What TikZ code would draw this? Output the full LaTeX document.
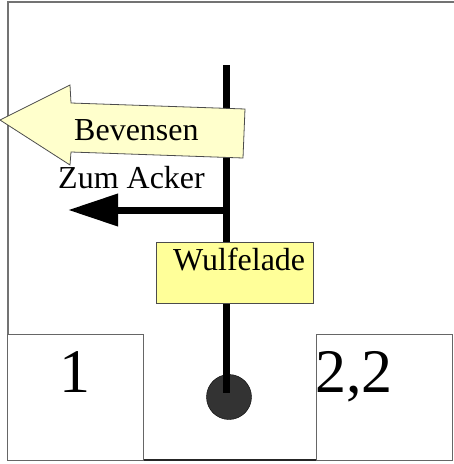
\documentclass[tikz,border=0pt]{standalone}
\usepackage{fontspec}
\setmainfont{Liberation Serif}
\usepackage{tikz}
\usetikzlibrary{arrows.meta,shapes}

\definecolor{signpale}{HTML}{FFFFCC}
\definecolor{signyellow}{HTML}{FFFF99}
\definecolor{knob}{HTML}{333333}

\tikzset{
  frameline/.style={line width=1.5pt, color=black!55},
  plotbox/.style={draw=black!60, line width=1pt, fill=white, rectangle, inner sep=0pt},
  sign/.style={draw=black!70, line width=0.8pt},
  pole/.style={line width=7pt, color=black},
  signtext/.style={inner sep=0pt, font=\fontsize{32pt}{36pt}\selectfont},
  bigtext/.style={inner sep=0pt, font=\fontsize{62pt}{70pt}\selectfont}
}

\begin{document}
\begin{tikzpicture}[x=1pt, y=-1pt]

  \useasboundingbox (0,0) rectangle (454,464);

  \newcommand\POLEX{226.5};

  % frame
  \draw[frameline] (454,2) -- (8,2) -- (8,460);
  \draw[frameline, color=black!85] (8,460) -- (452,460);

  % plots
  \node[plotbox, minimum width=136pt, minimum height=126pt] (plotA) at (75,397) {};
  \node[plotbox, minimum width=136pt, minimum height=126pt] (plotB) at (384,397) {};
  \node[bigtext, anchor=base] (numA) at (75,392) {1};
  \node[bigtext, anchor=base] (numB) at (354,392) {2,2};

  % post
  \node[circle, draw=black, fill=knob, minimum size=45pt, inner sep=0pt] (foot) at (229,397) {};
  \coordinate (poletop) at (\POLEX,65);
  \coordinate (polefoot) at (\POLEX,393);
  \coordinate (fork) at (\POLEX,210);
  \coordinate (acker) at (68,210);

  \draw[pole, -{Triangle[length=50pt,width=31pt]}] (fork) -- (acker);
  \draw[pole] (poletop) -- (polefoot);

  % signs
  \draw[sign, fill=signpale] (0,120) -- (70,85) -- (71,103) -- (245,109)
  -- (243,158) -- (71,152) -- (70,165) -- cycle;
  \node[signtext, anchor=base west] (bevensen) at (74,140) {Bevensen};
  \node[signtext, anchor=base west] (ackertext) at (58,188) {Zum Acker};

  \node[sign, fill=signyellow, rectangle, inner sep=0pt,
    minimum width=157pt, minimum height=61pt] (wulfbox) at (234.5,272.5) {};
  \node[signtext, anchor=base west] (wulfelade) at (173,270) {Wulfelade};

\end{tikzpicture}
\end{document}
